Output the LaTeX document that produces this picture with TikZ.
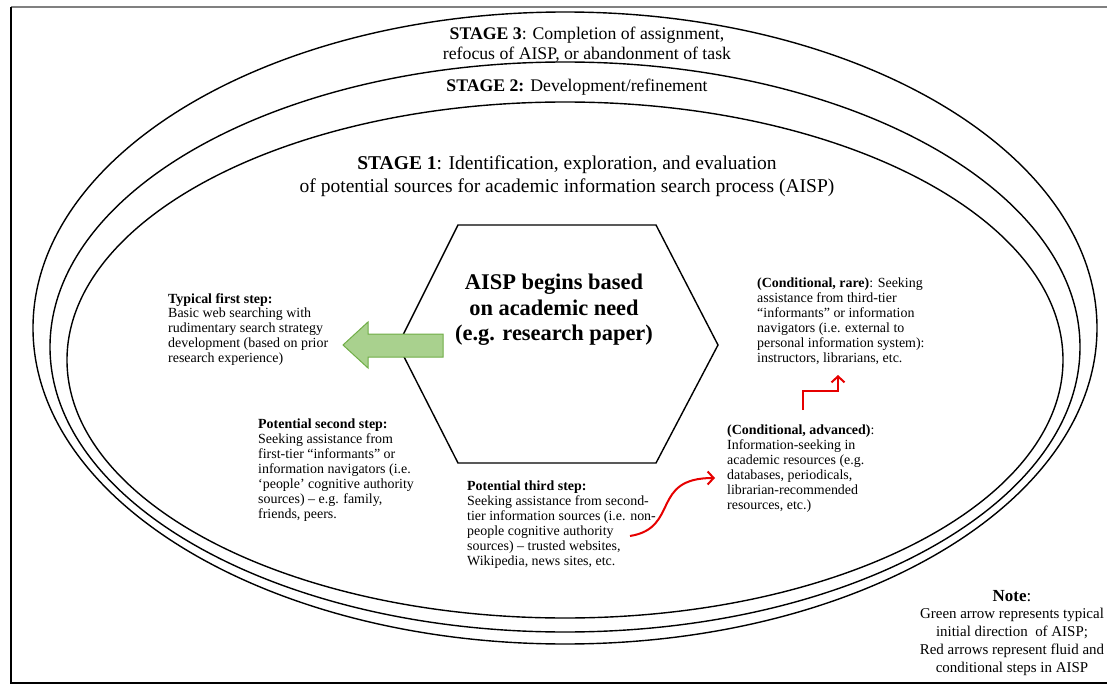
\documentclass[tikz,border=0pt]{standalone}
\usepackage{fontspec}
\setmainfont{Liberation Serif}
\usetikzlibrary{arrows.meta}
\definecolor{arrowgreen}{RGB}{169,209,142}
\definecolor{arrowedge}{RGB}{112,173,71}
\definecolor{stepred}{RGB}{230,0,0}
\begin{document}
\begin{tikzpicture}
[x=1bp,y=-1bp,
  ringdecorate/.style={line width=1.4bp},
  steptext/.style={anchor=north west,align=left,inner sep=0pt,
    font=\fontsize{14}{15}\selectfont},
  stagetext/.style={anchor=north,align=center,inner sep=0pt},
  redarrow/.style={stepred,line width=2bp,
    -{Straight Barb[length=6bp,width=13bp,line width=2bp]}}]
\useasboundingbox (0,0) rectangle (1107,685);
%% frame
\draw[gray,line width=1.5bp] (11,7) -- (1107,7);
\draw[line width=1.2bp] (11,7) -- (11,683) -- (1107,683);
%% stages as rings
\foreach \cx/\cy/\rx/\ry in {565/328/532/316, 565/347/515/285,
  565/360/498/258} {
  \draw[ringdecorate] (\cx,\cy) ellipse [x radius=\rx, y radius=\ry];
}
\node (stage3) [stagetext,font=\fontsize{17.8}{19.5}\selectfont] at (587,27)
  {\textbf{STAGE 3}: Completion of assignment,\\
   refocus of AISP, or abandonment of task};
\node (stage2) [stagetext,font=\fontsize{17.8}{19.5}\selectfont] at (577,79)
  {\textbf{STAGE 2:} Development/refinement};
\node (stage1) [stagetext,font=\fontsize{19.6}{23}\selectfont] at (567,156)
  {\textbf{STAGE 1}: Identification, exploration, and evaluation\\
   of potential sources for academic information search process (AISP)};
%% hexagon with the starting need
\draw[ringdecorate] (458,225) -- (656,225) -- (718,345) -- (656,463)
  -- (458,463) -- (398,345) -- cycle;
\node (need) [stagetext,font=\fontsize{22.5}{25.5}\selectfont\bfseries]
  at (554,274) {AISP begins based\\on academic need\\(e.g. research paper)};
%% green arrow
\draw[fill=arrowgreen,draw=arrowedge,line width=1bp] (343,345) -- (368,322)
  -- (368,334) -- (443,334) -- (443,357) -- (368,357) -- (368,368) -- cycle;
%% steps
\node (first) [steptext] at (168,293)
  {\textbf{Typical first step:}\\
   Basic web searching with\\
   rudimentary search strategy\\
   development (based on prior\\
   research experience)};
\node (second) [steptext] at (258,419)
  {\textbf{Potential second step:}\\
   Seeking assistance from\\
   first-tier “informants” or\\
   information navigators (i.e.\\
   ‘people’ cognitive authority\\
   sources) – e.g. family,\\
   friends, peers.};
\node (third) [steptext] at (467,481)
  {\textbf{Potential third step:}\\
   Seeking assistance from second-\\
   tier information sources (i.e. non-\\
   people cognitive authority\\
   sources) – trusted websites,\\
   Wikipedia, news sites, etc.};
\node (advanced) [steptext] at (727,425)
  {\textbf{(Conditional, advanced)}:\\
   Information-seeking in\\
   academic resources (e.g.\\
   databases, periodicals,\\
   librarian-recommended\\
   resources, etc.)};
\node (rare) [steptext] at (757,278)
  {\textbf{(Conditional, rare)}: Seeking\\
   assistance from third-tier\\
   “informants” or information\\
   navigators (i.e. external to\\
   personal information system):\\
   instructors, librarians, etc.};
%% red arrows
\coordinate (thirdout) at (630,536);
\coordinate (advin) at (715,478);
\coordinate (advout) at (803,410);
\coordinate (rarein) at (838,375);
\draw[redarrow] (thirdout) .. controls (680,528) and (650,478) .. (advin);
\draw[redarrow] (advout) -- (803,391) -- (838,391) -- (rarein);
%% note
\node (notetitle) [stagetext,font=\fontsize{17}{20}\selectfont] at (1012,590)
  {\textbf{Note}:};
\node (notebody) [stagetext,font=\fontsize{15}{18}\selectfont] at (1012,608)
  {Green arrow represents typical\\
   initial direction\ \ of AISP;\\
   Red arrows represent fluid and\\
   conditional steps in AISP};
\end{tikzpicture}
\end{document}
